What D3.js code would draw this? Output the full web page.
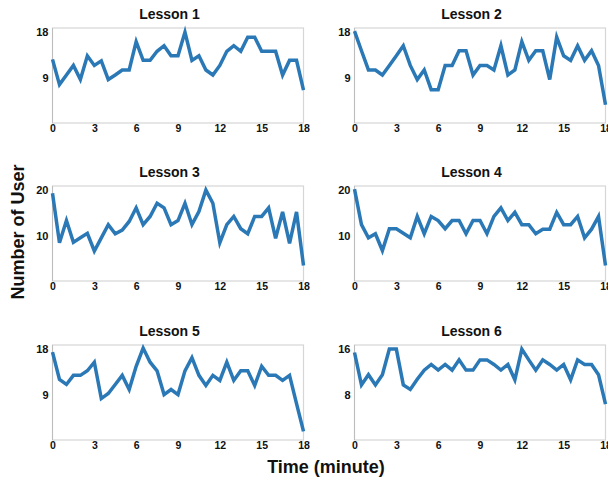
<!DOCTYPE html>
<html>
<head>
<meta charset="utf-8">
<script src="https://cdnjs.cloudflare.com/ajax/libs/d3/7.8.5/d3.min.js"></script>
<style>
  body { margin: 0; background: #fff; }
  text { font-family: "Liberation Sans", Arial, sans-serif; font-weight: bold; fill: #111; }
</style>
</head>
<body>
<script>

// minutes, one reading every half minute
var times = d3.range(0, 18.01, 0.5)

var lessons = ["Lesson 1", "Lesson 2", "Lesson 3", "Lesson 4", "Lesson 5", "Lesson 6"]
var yTop = [18, 18, 20, 20, 18, 16]
var xTicks = [0, 3, 6, 9, 12, 15, 18]

var lesson1 = [12.6, 7.6, 9.5, 11.4, 8.6, 13.3, 11.4, 12.3, 8.6, 9.5, 10.5, 10.5, 16.1, 12.4, 12.4, 14.2, 15.3, 13.3, 13.3,
	18, 12.4, 13.3, 10.5, 9.5, 11.4, 14.2, 15.3, 14.2, 17, 17, 14.2, 14.2, 14.2, 9.5, 12.4, 12.4, 6.5]
var lesson2 = [18.2, 14.3, 10.5, 10.5, 9.5, 11.4, 13.3, 15.3, 11.4, 8.6, 10.5, 6.6, 6.6, 11.4, 11.4, 14.3, 14.3, 9.5, 11.4,
	11.4, 10.5, 15.3, 9.5, 10.5, 16.1, 12.4, 14.3, 14.3, 8.6, 17, 13.3, 12.4, 15.3, 12.4, 14.3, 11.4, 3.6]
var lesson3 = [19.3, 8.4, 13.3, 8.5, 9.5, 10.5, 6.6, 9.5, 12.4, 10.4, 11.2, 13.1, 16.1, 12.4, 14.2, 17.1, 16.1, 12.4, 13.3,
	17.1, 12.4, 15.3, 20, 17.1, 8.4, 12.4, 14.2, 11.5, 10.4, 14.2, 14.2, 16.1, 9.4, 15.2, 8.3, 15.2, 3.4]
var lesson4 = [20.2, 12.4, 9.5, 10.4, 6.7, 11.5, 11.5, 10.5, 9.5, 14.2, 10.4, 14.2, 13.3, 11.5, 13.3, 13.3, 10.4, 13.3, 13.3,
	10.4, 14.2, 16.1, 13.3, 15.1, 12.4, 12.4, 10.4, 11.4, 11.4, 15.1, 12.4, 12.4, 14.2, 9.5, 11.4, 14.2, 3.4]
var lesson5 = [17.4, 12, 11, 12.8, 12.8, 13.7, 15.4, 8.2, 9.2, 11, 12.8, 10, 14.6, 18.2, 15.4, 13.7, 9, 10, 9,
	13.7, 16.3, 12.8, 10.8, 12.8, 11.8, 15.4, 11.8, 13.7, 13.7, 10.8, 14.6, 12.8, 12.8, 11.8, 12.8, 7.2, 1.7]
var lesson6 = [15.4, 9.7, 11.5, 9.7, 11.5, 16, 16, 9.7, 8.9, 10.7, 12.3, 13.3, 12.3, 13.3, 12.3, 14.1, 12.3, 12.3, 14.1,
	14.1, 13.3, 12.3, 13.3, 10.6, 16, 14.1, 12.3, 14.1, 13.3, 12.3, 13.3, 10.6, 14.1, 13.3, 13.3, 11.5, 6.3]

var series = [lesson1, lesson2, lesson3, lesson4, lesson5, lesson6]

var svg = d3.select("body").append("svg")
	.attr("width", 608)
	.attr("height", 480)

var colX = [[52.5, 303.5], [354.5, 605.5]]
var rowY = [123, 281, 440]   // bottom of each plot row
var plotH = 95

lessons.forEach(function(name, i) {
	var col = i % 2, row = Math.floor(i / 2)
	var x0 = colX[col][0], x1 = colX[col][1]
	var yb = rowY[row]

	var x = d3.scaleLinear().domain([0, 18]).range([x0, x1])
	var y = d3.scaleLinear().domain([0, yTop[i] * 1.045]).range([yb, yb - plotH])

	var g = svg.append("g")

	// frame
	g.append("rect")
		.attr("x", x0).attr("y", yb - plotH)
		.attr("width", x1 - x0).attr("height", plotH)
		.attr("fill", "none")
		.attr("stroke", "#d6d6d6")
		.attr("stroke-width", 1.2)

	g.append("line")
		.attr("x1", x0).attr("x2", x0)
		.attr("y1", yb - plotH).attr("y2", yb)
		.attr("stroke", "#bdbdbd")

	// x axis
	var xa = g.append("g")
		.attr("transform", "translate(0," + yb + ")")
		.call(d3.axisBottom(x).tickValues(xTicks).tickSize(0).tickPadding(2))
	xa.select(".domain").remove()
	xa.selectAll("text").style("font-size", "10.5px")

	// y axis
	var ya = g.append("g")
		.attr("transform", "translate(" + x0 + ",0)")
		.call(d3.axisLeft(y).tickValues([yTop[i] / 2, yTop[i]]).tickSize(0).tickPadding(4))
	ya.select(".domain").remove()
	ya.selectAll("text").style("font-size", "11px")

	// line
	var line = d3.line()
		.x(function(d, k) { return x(times[k]) })
		.y(function(d) { return y(d) })

	g.append("path")
		.datum(series[i])
		.attr("d", line)
		.attr("fill", "none")
		.attr("stroke", "#2a78b5")
		.attr("stroke-width", 3.5)
		.attr("stroke-linejoin", "miter")

	// title
	g.append("text")
		.attr("x", (x0 - 17 + x1) / 2)
		.attr("y", yb - plotH - 9)
		.attr("text-anchor", "middle")
		.style("font-size", "14px")
		.text(name)
})

svg.append("text")
	.attr("x", 326)
	.attr("y", 473)
	.attr("text-anchor", "middle")
	.style("font-size", "18px")
	.text("Time (minute)")

svg.append("text")
	.attr("transform", "translate(24,232) rotate(-90)")
	.attr("text-anchor", "middle")
	.style("font-size", "18px")
	.text("Number of User")

</script>
</body>
</html>
